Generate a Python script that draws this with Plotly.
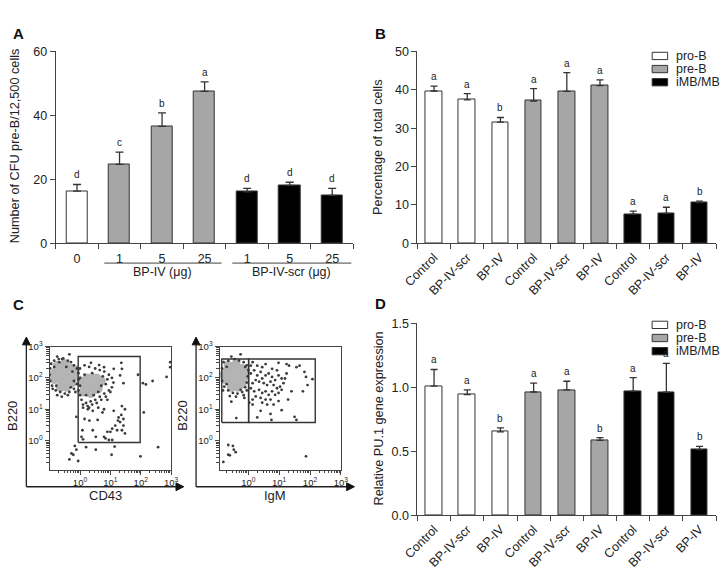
import plotly.graph_objects as go

W, H = 728, 570
FONT = "Liberation Sans, Arial, sans-serif"
AXC = "#444444"
TXT = "#222222"

# ---------------- data ----------------
# Panel A
a_labels = ["0", "1", "5", "25", "1", "5", "25"]
a_values = [16.3, 24.7, 36.6, 47.5, 16.1, 18.1, 15.0]
a_err = [2.1, 3.8, 4.2, 3.0, 1.1, 1.0, 2.2]
a_letters = ["d", "c", "b", "a", "d", "d", "d"]
a_group_of_bar = [0, 1, 1, 1, 2, 2, 2]
a_groups = ["BP-IV (μg)", "BP-IV-scr (μg)"]

# Panels B and D
treatments = ["Control", "BP-IV-scr", "BP-IV"] * 3
cell_types = ["pro-B", "pre-B", "iMB/MB"]
b_values = [39.7, 37.4, 31.6, 37.1, 39.6, 41.1, 7.6, 7.8, 10.6]
b_err = [1.3, 1.6, 1.2, 3.2, 4.9, 1.5, 0.8, 1.6, 0.4]
b_letters = ["a", "a", "b", "a", "a", "a", "a", "a", "b"]

d_values = [1.010, 0.944, 0.652, 0.964, 0.980, 0.586, 0.970, 0.962, 0.513]
d_err = [0.130, 0.036, 0.031, 0.069, 0.068, 0.021, 0.106, 0.226, 0.025]
d_letters = ["a", "a", "b", "a", "a", "b", "a", "a", "b"]

# Panel C (log10 of fluorescence, (x, y))
c1_blob = [(-0.55, 2.1), (-0.45, 2.0), (-0.65, 2.15), (-0.5, 2.25), (-0.7, 1.95), (-0.35, 2.15),
           (-0.6, 1.85), (-0.4, 1.85), (-0.8, 2.2), (-0.3, 2.3), (-0.75, 2.4), (-0.5, 2.45),
           (-0.2, 2.05), (-0.85, 1.95), (-0.25, 1.85), (-0.65, 1.7), (-0.45, 1.7), (-0.15, 2.25),
           (-0.9, 2.1), (-0.6, 2.35), (-0.4, 2.3), (-0.55, 1.95), (-0.7, 2.05), (-0.35, 2.0),
           (0.2, 1.9), (0.35, 1.8), (0.5, 1.85), (0.3, 1.65), (0.45, 1.6), (0.15, 1.7),
           (0.6, 1.75), (0.25, 2.0), (0.45, 2.0), (0.1, 1.55), (0.55, 2.0), (0.7, 1.9),
           (0.35, 1.5), (0.05, 1.9), (0.2, 1.6), (0.6, 1.65)]
c1_dots = [(-0.75, 2.68), (-0.35, 2.75), (-0.59, 2.6),
           (0.36, 2.48), (0.63, 2.41), (0.79, 2.34), (1.11, 2.29), (1.36, 2.48), (1.38, 2.29),
           (1.32, 2.08), (1.43, 1.83), (1.91, 2.1), (2.07, 1.83), (2.17, 1.79), (2.39, 1.9),
           (2.85, 2.03), (2.97, 2.34), (2.97, 2.5),
           (0.1, 1.05), (0.26, 1.0), (0.42, 0.95), (0.15, 0.69), (0.31, 0.64), (0.58, 0.66),
           (0.74, 0.9), (0.79, 1.0), (1.11, 0.95), (1.38, 1.1), (1.48, 1.0), (1.27, 0.74),
           (1.32, 0.59), (1.43, 0.69), (1.16, 0.48), (1.06, 0.38), (1.0, 0.28), (1.22, 0.33),
           (1.38, 0.33), (1.43, 0.48), (0.9, 0.28), (1.48, 0.23), (0.84, 0.07), (0.79, 0.12),
           (0.95, 0.02), (1.06, 0.02), (0.08, 0.33), (0.05, 0.12), (0.1, 0.04), (0.42, 0.33),
           (0.52, 0.12), (-0.12, 0.76), (2.1, 0.9), (1.25, 0.64), (1.36, 0.82),
           (-0.17, -0.17), (-0.12, -0.29), (-0.22, -0.45), (-0.28, -0.41), (-0.35, -0.6),
           (-0.06, -0.65), (0.2, -0.21), (0.52, -0.29), (1.14, -0.19), (1.04, -0.45),
           (1.99, -0.5), (2.57, -0.21),
           (-0.95, 2.45), (-0.85, 2.55), (-0.7, 2.6), (-0.55, 2.62), (-0.4, 2.55), (-0.3, 2.5),
           (-0.2, 2.4), (-0.1, 2.3), (-0.05, 2.15), (-0.05, 1.95), (-0.1, 1.8), (-0.2, 1.65),
           (-0.35, 1.55), (-0.5, 1.5), (-0.65, 1.55), (-0.8, 1.6), (-0.92, 1.75), (-0.98, 1.9),
           (-1.0, 2.1), (-0.98, 2.3), (-0.9, 1.65), (-0.75, 1.45), (-0.6, 1.4), (-0.4, 1.45),
           (-0.15, 1.55), (-0.85, 2.35), (-0.25, 2.2), (-0.78, 1.75), (-0.3, 1.7), (-0.68, 2.5),
           (-0.45, 2.35), (-0.2, 1.9),
           (0.0, 2.3), (0.15, 2.4), (0.3, 2.35), (0.5, 2.3), (0.65, 2.25), (0.8, 2.2), (0.95, 2.1),
           (1.05, 2.0), (1.1, 1.85), (1.05, 1.7), (0.95, 1.6), (0.8, 1.5), (0.65, 1.4), (0.5, 1.3),
           (0.35, 1.25), (0.2, 1.2), (0.05, 1.3), (0.0, 1.45), (-0.05, 1.6), (0.0, 1.75),
           (0.0, 2.0), (0.1, 1.15), (0.25, 1.1), (0.4, 1.15), (0.55, 1.2), (0.7, 1.3), (0.85, 1.4),
           (1.0, 1.55), (0.9, 1.95), (0.75, 2.05), (0.6, 1.55), (0.2, 1.45), (0.45, 1.45),
           (0.7, 1.75), (0.85, 1.8), (0.15, 2.1), (0.4, 2.15), (0.9, 1.3), (0.3, 1.05), (0.6, 1.05)]
c1_gate = ((-0.06, 1.98), (-0.06, 2.68))

c2_blob = [(-0.45, 2.1), (-0.35, 2.0), (-0.55, 2.15), (-0.4, 2.25), (-0.6, 1.95), (-0.25, 2.15),
           (-0.5, 1.85), (-0.3, 1.85), (-0.7, 2.2), (-0.2, 2.3), (-0.65, 2.4), (-0.4, 2.45),
           (-0.15, 2.0), (-0.75, 1.95), (-0.2, 1.8), (-0.55, 1.7), (-0.35, 1.7), (-0.1, 2.2),
           (-0.8, 2.1), (-0.5, 2.35), (-0.3, 2.3), (-0.45, 1.95), (-0.6, 2.05), (-0.25, 2.0)]
c2_dots = [(-0.55, 2.68), (-0.25, 2.75), (0.14, 2.5), (0.56, 2.44), (0.98, 2.48), (1.24, 2.44),
           (1.32, 2.39), (1.56, 2.34), (1.66, 2.39), (1.82, 2.19), (1.87, 2.03), (2.08, 1.96),
           (1.92, 1.77), (1.77, 1.57), (1.4, 1.57), (1.29, 1.31), (1.08, 0.97), (0.72, 0.85),
           (0.4, 0.95), (0.29, 0.74), (0.75, 0.66), (1.5, 0.76), (1.56, 0.66), (-0.39, 0.72),
           (-0.55, 1.24), (-0.13, 1.36), (0.14, 1.15), (0.03, 1.21), (0.82, 1.15), (0.98, 1.26),
           (-0.65, -0.14), (-0.5, -0.17), (-0.47, -0.29), (-0.41, -0.37), (-0.65, -0.45),
           (-0.6, -0.47), (-0.81, -0.68), (1.87, -0.5),
           (0.08, 2.14), (0.19, 2.24), (0.29, 2.08), (0.4, 2.19), (0.45, 1.98), (0.56, 2.08),
           (0.66, 2.14), (0.77, 2.03), (0.87, 1.93), (0.98, 2.08), (1.08, 1.98), (1.14, 1.83),
           (1.03, 1.72), (0.93, 1.67), (0.82, 1.77), (0.72, 1.88), (0.61, 1.77), (0.5, 1.83),
           (0.35, 1.88), (0.24, 1.93), (0.14, 1.83), (0.08, 1.67), (0.19, 1.57), (0.35, 1.62),
           (0.45, 1.52), (0.56, 1.57), (0.66, 1.46), (0.77, 1.57), (0.87, 1.46), (0.98, 1.52),
           (0.72, 1.31), (0.56, 1.31), (0.4, 1.36), (0.24, 1.41), (0.14, 1.31), (1.08, 1.62),
           (1.19, 1.98), (1.24, 2.14), (0.93, 2.24), (0.77, 2.29), (0.45, 2.34), (0.29, 2.39),
           (0.08, 2.39), (0.61, 1.15), (0.45, 1.21),
           (-0.8, 2.5), (-0.65, 2.55), (-0.45, 2.6), (-0.3, 2.55), (-0.15, 2.5), (-0.05, 2.4),
           (0.0, 2.25), (-0.02, 2.05), (-0.05, 1.85), (-0.1, 1.7), (-0.2, 1.55), (-0.35, 1.5),
           (-0.5, 1.52), (-0.65, 1.6), (-0.78, 1.72), (-0.85, 1.9), (-0.85, 2.3), (-0.82, 1.6),
           (-0.6, 1.42), (-0.4, 1.4), (-0.15, 1.45), (-0.05, 1.6), (-0.7, 2.35), (-0.1, 2.35),
           (-0.25, 1.62), (-0.7, 1.8)]
c2_gate_left = ((-0.86, 0.01), (0.58, 2.6))
c2_gate_right = ((0.01, 2.17), (0.58, 2.6))

# ---------------- styling helpers ----------------
FILLS = ["#ffffff", "#a6a6a6", "#000000"]
BAR_LINE = "#333333"


def px(x):
    return x / W


def py(y):
    return 1 - y / H


fig = go.Figure()

# ---- Panel A bars
fig.add_trace(go.Bar(
    x=list(range(len(a_values))), y=a_values, width=0.5,
    marker=dict(color=[FILLS[g] for g in a_group_of_bar], line=dict(color=BAR_LINE, width=1)),
    error_y=dict(type="data", array=a_err, arrayminus=[0] * len(a_err), symmetric=False,
                 color=BAR_LINE, thickness=1.3, width=4),
    xaxis="x", yaxis="y", showlegend=False))

# ---- Panel B bars
fig.add_trace(go.Bar(
    x=list(range(len(b_values))), y=b_values, width=0.5,
    marker=dict(color=[FILLS[i // 3] for i in range(len(b_values))], line=dict(color=BAR_LINE, width=1)),
    error_y=dict(type="data", array=b_err, arrayminus=[0] * len(b_err), symmetric=False,
                 color=BAR_LINE, thickness=1.3, width=3.5),
    xaxis="x2", yaxis="y2", showlegend=False))

# ---- Panel D bars
fig.add_trace(go.Bar(
    x=list(range(len(d_values))), y=d_values, width=0.5,
    marker=dict(color=[FILLS[i // 3] for i in range(len(d_values))], line=dict(color=BAR_LINE, width=1)),
    error_y=dict(type="data", array=d_err, arrayminus=[0] * len(d_err), symmetric=False,
                 color=BAR_LINE, thickness=1.3, width=3.5),
    xaxis="x5", yaxis="y5", showlegend=False))

# ---- Panel C scatter plots
for blob, dots, xa, ya in [(c1_blob, c1_dots, "x3", "y3"), (c2_blob, c2_dots, "x4", "y4")]:
    fig.add_trace(go.Scatter(
        x=[10 ** p[0] for p in blob], y=[10 ** p[1] for p in blob], mode="markers",
        marker=dict(size=9, color="#b4b4b4", line=dict(width=0)),
        xaxis=xa, yaxis=ya, showlegend=False, hoverinfo="skip"))
    fig.add_trace(go.Scatter(
        x=[10 ** p[0] for p in dots], y=[10 ** p[1] for p in dots], mode="markers",
        marker=dict(size=2.8, color="#3c3c3c", line=dict(width=0)),
        xaxis=xa, yaxis=ya, showlegend=False, hoverinfo="skip"))

for gate, xa, ya in [(c1_gate, "x3", "y3"), (c2_gate_left, "x4", "y4"), (c2_gate_right, "x4", "y4")]:
    (x0, x1), (y0, y1) = gate
    fig.add_trace(go.Scatter(
        x=[10 ** v for v in (x0, x1, x1, x0, x0)], y=[10 ** v for v in (y0, y0, y1, y1, y0)],
        mode="lines", line=dict(color="#333333", width=1.4),
        xaxis=xa, yaxis=ya, showlegend=False, hoverinfo="skip"))

# ---------------- axes ----------------
tickfont = dict(family=FONT, size=12.5, color=TXT)


def bar_xaxis(dom, labels, anchor, angle=0):
    n = len(labels)
    return dict(domain=dom, anchor=anchor, range=[-0.5, n - 0.5], showline=True, linecolor=AXC,
                linewidth=1, showgrid=False, zeroline=False, tickmode="array",
                tickvals=list(range(n)), ticktext=labels, ticks="", tickangle=angle,
                tickfont=tickfont, ticklabelstandoff=4 if angle == 0 else 1,
                minor=dict(tickmode="array", tickvals=[i - 0.5 for i in range(n + 1)],
                           ticks="outside", ticklen=5, tickcolor=AXC, tickwidth=1, showgrid=False))


def bar_yaxis(dom, rng, tv, anchor, fmt=None):
    d = dict(domain=dom, anchor=anchor, range=rng, showline=True, linecolor=AXC, linewidth=1,
             showgrid=False, zeroline=False, tickmode="array", tickvals=tv, ticks="outside",
             ticklen=5, tickcolor=AXC, tickfont=tickfont)
    if fmt:
        d["tickformat"] = fmt
    return d


minor_log = [k * 10 ** e for e in range(-1, 3) for k in range(2, 10)]
decade_vals = [1, 10, 100, 1000]
decade_text = ["10<sup>0</sup>", "10<sup>1</sup>", "10<sup>2</sup>", "10<sup>3</sup>"]
small_font = dict(family=FONT, size=9.5, color=TXT)


def flow_axis(dom, rng, anchor):
    return dict(domain=dom, anchor=anchor, type="log", range=rng, showline=True, mirror=True,
                linecolor=AXC, linewidth=1.2, showgrid=False, zeroline=False, tickmode="array",
                tickvals=decade_vals, ticktext=decade_text, ticks="outside", ticklen=4,
                tickcolor=AXC, tickfont=small_font,
                minor=dict(tickmode="array", tickvals=minor_log, ticks="outside", ticklen=2.5,
                           tickcolor=AXC, showgrid=False))


yA = [py(242.7), py(45.7)]
yD = [py(522), py(325)]
xA = [px(42), px(349)]
xB = [px(415), px(723)]
yC = [py(475.3), py(348.7)]

fig.update_layout(
    width=W, height=H, margin=dict(l=0, r=0, t=0, b=0),
    paper_bgcolor="white", plot_bgcolor="white",
    font=dict(family=FONT, size=12, color=TXT),
    xaxis=bar_xaxis(xA, a_labels, "y"),
    yaxis=bar_yaxis(yA, [0, 60], [0, 20, 40, 60], "x"),
    xaxis2=bar_xaxis(xB, treatments, "y2", angle=-45),
    yaxis2=bar_yaxis(yA, [0, 50], [0, 10, 20, 30, 40, 50], "x2"),
    xaxis5=bar_xaxis(xB, treatments, "y5", angle=-45),
    yaxis5=bar_yaxis(yD, [0, 1.5], [0, 0.5, 1.0, 1.5], "x5", fmt=".1f"),
    xaxis3=flow_axis([px(35.7), px(161)], [-1, 3], "y3"),
    yaxis3=flow_axis(yC, [-0.93, 3], "x3"),
    xaxis4=flow_axis([px(211), px(336)], [-0.93, 3], "y4"),
    yaxis4=flow_axis(yC, [-0.93, 3], "x4"),
    bargap=0,
)

ann = []
shapes = []


def label(x, y, text, size=12, angle=0, bold=False, xanchor="center", yanchor="middle"):
    ann.append(dict(x=px(x), y=py(y), xref="paper", yref="paper", text=f"<b>{text}</b>" if bold else text,
                    showarrow=False, textangle=angle, xanchor=xanchor, yanchor=yanchor,
                    font=dict(family=FONT, size=size, color="#111111" if bold else TXT)))


# panel letters
label(4, 27, "A", size=15, bold=True)
label(377, 27, "B", size=15, bold=True)
label(4, 306, "C", size=15, bold=True)
label(377, 304, "D", size=15, bold=True)

# axis titles
label(0, 143, "Number of CFU pre-B/12,500 cells", size=12.7, angle=-90)
label(375, 144, "Percentage of total cells", size=12.7, angle=-90)
label(375, 423, "Relative PU.1 gene expression", size=12.7, angle=-90)
label(93, 502, "CD43", size=13)
label(268, 502, "IgM", size=13)
label(-2, 420, "B220", size=13, angle=-90)
label(173, 420, "B220", size=13, angle=-90)

# significance letters
for xa, ya, vals, errs, letters in [("x", "y", a_values, a_err, a_letters),
                                      ("x2", "y2", b_values, b_err, b_letters),
                                      ("x5", "y5", d_values, d_err, d_letters)]:
    for i, (v, e, t) in enumerate(zip(vals, errs, letters)):
        ann.append(dict(x=i, y=v + e, xref=xa, yref=ya, text=t, showarrow=False,
                        yanchor="bottom", yshift=2, font=dict(family=FONT, size=10, color=TXT)))

# group labels under panel A
for (g0, g1), name in zip([(0.64, 3.40), (3.65, 6.45)], a_groups):
    shapes.append(dict(type="line", xref="x", yref="paper", x0=g0, x1=g1, y0=py(263), y1=py(263),
                       line=dict(color=AXC, width=1)))
    ann.append(dict(x=(g0 + g1) / 2, y=py(272), xref="x", yref="paper", text=name, showarrow=False,
                    yanchor="middle", font=dict(family=FONT, size=12.5, color=TXT)))

# legends for B and D
for top in (46.5, 322.7):
    for k, name in enumerate(cell_types):
        y0 = top + k * 13.5
        shapes.append(dict(type="rect", xref="paper", yref="paper", x0=px(657), x1=px(673),
                           y0=py(y0), y1=py(y0 + 7.5), fillcolor=FILLS[k],
                           line=dict(color=BAR_LINE, width=1)))
        label(680, y0 + 3.8, name, size=12.5, xanchor="left")

# arrow axes framing the flow plots
for xv, xend in ((11.7, 174), (186.7, 350)):
    shapes.append(dict(type="line", xref="paper", yref="paper", x0=px(xv), x1=px(xv),
                       y0=py(345), y1=py(492.7), line=dict(color="#222222", width=1.3)))
    shapes.append(dict(type="line", xref="paper", yref="paper", x0=px(xv), x1=px(xend - 6),
                       y0=py(492.7), y1=py(492.7), line=dict(color="#222222", width=1.3)))
    shapes.append(dict(type="path", xref="paper", yref="paper",
                       path=f"M {px(xv - 4)} {py(347)} L {px(xv)} {py(339)} L {px(xv + 4)} {py(347)} Z",
                       fillcolor="#111111", line=dict(color="#111111", width=1)))
    shapes.append(dict(type="path", xref="paper", yref="paper",
                       path=f"M {px(xend - 8)} {py(488.7)} L {px(xend)} {py(492.7)} L {px(xend - 8)} {py(496.7)} Z",
                       fillcolor="#111111", line=dict(color="#111111", width=1)))

fig.update_layout(annotations=ann, shapes=shapes)
fig.write_html("out.html")
